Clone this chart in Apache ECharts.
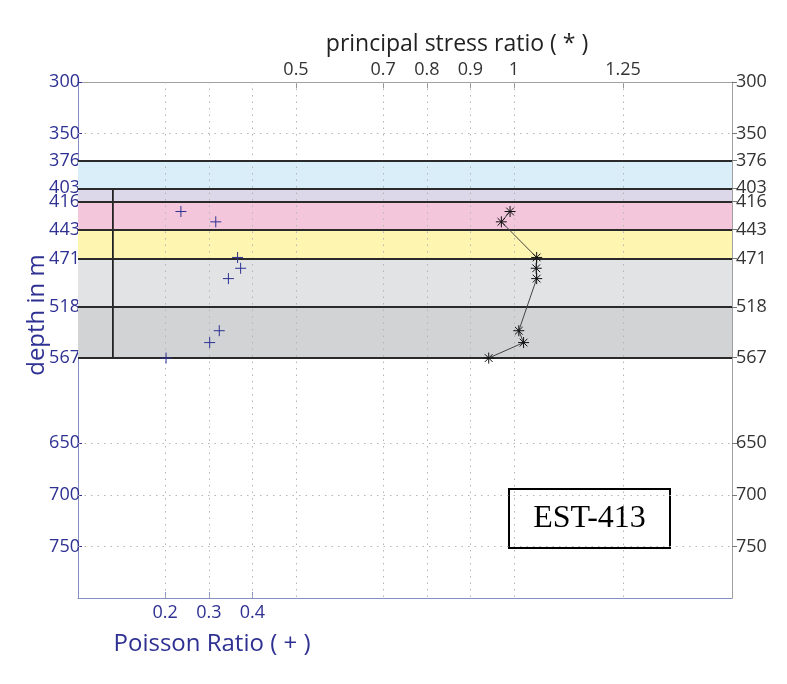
<!DOCTYPE html>
<html>
<head>
<meta charset="utf-8">
<script src="https://cdn.jsdelivr.net/npm/echarts@6/dist/echarts.min.js"></script>
<style>html,body{margin:0;padding:0;background:#fff}#c{width:787px;height:684px}</style>
</head>
<body>
<div id="c"></div>
<script>
// ---- data ----
const depths = [425.5, 435.5, 470, 480.5, 490.5, 541, 552.5, 567.5];
const poissonRatio = [0.236, 0.316, 0.366, 0.373, 0.345, 0.324, 0.302, 0.202];
const stressRatio = [0.991, 0.971, 1.052, 1.051, 1.052, 1.011, 1.022, 0.942];
const poissonTicks = [0.2, 0.3, 0.4];
const stressTicks = [0.5, 0.7, 0.8, 0.9, 1, 1.25];
const depthTicks = [300, 350, 376, 403, 416, 443, 471, 518, 567, 650, 700, 750];
const bandTops = [376, 403, 416, 443, 471, 518];
const bandBottoms = [403, 416, 443, 471, 518, 567];
const bandColors = ['#d9eef9', '#dcd8e9', '#f4c6dc', '#fdf5b0', '#e2e3e5', '#d2d3d5'];
const boundaryDepths = [376, 403, 416, 443, 471, 518, 567];
const wellLineX = [0.08, 0.08];
const wellLineDepth = [403, 567];
const wellLabel = 'EST-413';

const blue = '#2e3192';
const sans = 'Open Sans';
const chart = echarts.init(document.getElementById('c'), null, {renderer: 'canvas'});

const bandData = bandTops.map((t, i) => [
  {yAxis: t, itemStyle: {color: bandColors[i]}},
  {yAxis: bandBottoms[i]}
]);
const gridLines = []
  .concat(poissonTicks.concat(stressTicks).map(v => ({xAxis: v})))
  .concat(depthTicks.filter(d => boundaryDepths.indexOf(d) < 0 && d !== 300).map(d => ({yAxis: d})));
const boundaryLines = boundaryDepths.map(d => ({yAxis: d}));

chart.setOption({
  animation: false,
  backgroundColor: '#fff',
  grid: {left: 78, right: 55, top: 82, bottom: 86, containLabel: false},
  xAxis: [
    {
      type: 'value', position: 'bottom', min: 0, max: 1.5,
      name: 'Poisson Ratio ( + )', nameLocation: 'middle', nameGap: 34,
      nameTextStyle: {color: blue, fontSize: 24, fontFamily: sans, padding: [0, 386, 0, 0]},
      axisLine: {show: true, onZero: false, lineStyle: {color: '#8590c4', width: 1}},
      axisTick: {show: true, inside: true, length: 6, customValues: poissonTicks, lineStyle: {color: '#8590c4'}},
      axisLabel: {customValues: poissonTicks, color: blue, fontSize: 18, fontFamily: sans, margin: 6},
      splitLine: {show: false}
    },
    {
      type: 'value', position: 'top', min: 0, max: 1.5,
      name: 'principal stress ratio ( * )', nameLocation: 'middle', nameGap: 23,
      nameTextStyle: {color: '#222', fontSize: 23, fontFamily: sans, padding: [0, 0, 0, 104]},
      axisLine: {show: true, onZero: false, lineStyle: {color: '#a0a0a0', width: 1}},
      axisTick: {show: true, inside: true, length: 6, customValues: stressTicks, lineStyle: {color: '#999'}},
      axisLabel: {customValues: stressTicks, color: '#333', fontSize: 18, fontFamily: sans, margin: 3},
      splitLine: {show: false}
    }
  ],
  yAxis: [
    {
      type: 'value', position: 'left', inverse: true, min: 300, max: 800,
      name: 'depth in m', nameLocation: 'middle', nameGap: 29, nameRotate: 90, nameMoveOverlap: false,
      nameTextStyle: {color: blue, fontSize: 24, fontFamily: sans, padding: [0, 0, 0, 50]},
      axisLine: {show: true, onZero: false, lineStyle: {color: '#8590c4', width: 1}},
      axisTick: {show: true, inside: true, length: 4, customValues: depthTicks, lineStyle: {color: blue}},
      axisLabel: {customValues: depthTicks, color: blue, fontSize: 18, fontFamily: sans, margin: -2},
      splitLine: {show: false}
    },
    {
      type: 'value', position: 'right', inverse: true, min: 300, max: 800,
      axisLine: {show: true, onZero: false, lineStyle: {color: '#a0a0a0', width: 1}},
      axisTick: {show: true, inside: false, length: 5, customValues: depthTicks, lineStyle: {color: '#777'}},
      axisLabel: {customValues: depthTicks, color: '#333', fontSize: 18, fontFamily: sans, margin: 4},
      splitLine: {show: false}
    }
  ],
  graphic: [{
    type: 'group', left: 508, top: 488, z: 100,
    children: [
      {type: 'rect', shape: {x: 0, y: 0, width: 161, height: 59},
       style: {fill: '#fff', stroke: '#000', lineWidth: 2}},
      {type: 'text', x: 80.5, y: 30,
       style: {text: wellLabel, fill: '#000', font: '32px "Liberation Serif"', align: 'center', verticalAlign: 'middle'}}
    ]
  }],
  series: [
    {
      type: 'line', xAxisIndex: 0, yAxisIndex: 0, data: [], z: 1, silent: true,
      markArea: {silent: true, data: bandData, itemStyle: {borderWidth: 0}}
    },
    {
      type: 'line', xAxisIndex: 0, yAxisIndex: 0, data: [], z: 2, silent: true,
      markLine: {silent: true, symbol: ['none', 'none'], label: {show: false},
        lineStyle: {color: '#b5b5b5', type: [1.5, 5], width: 1}, data: gridLines}
    },
    {
      type: 'line', xAxisIndex: 0, yAxisIndex: 0, data: [], z: 3, silent: true,
      markLine: {silent: true, symbol: ['none', 'none'], label: {show: false},
        lineStyle: {color: '#2a2a2a', type: 'solid', width: 1.8}, data: boundaryLines}
    },
    {
      type: 'line', xAxisIndex: 0, yAxisIndex: 0, z: 3, silent: true, symbol: 'none',
      lineStyle: {color: '#222', width: 1.8},
      data: wellLineX.map((x, i) => [x, wellLineDepth[i]])
    },
    {
      name: 'Poisson Ratio', type: 'scatter', xAxisIndex: 0, yAxisIndex: 0, z: 5,
      symbol: 'path://M5,0L5,10M0,5L10,5', symbolSize: 11,
      itemStyle: {color: 'none', borderColor: blue, borderWidth: 1, opacity: 1},
      data: poissonRatio.map((v, i) => [v, depths[i]])
    },
    {
      name: 'principal stress ratio', type: 'line', xAxisIndex: 1, yAxisIndex: 0, z: 5,
      symbol: 'path://M5,0L5,10M0,5L10,5M1.5,1.5L8.5,8.5M8.5,1.5L1.5,8.5', symbolSize: 11,
      itemStyle: {color: 'none', borderColor: '#111', borderWidth: 1},
      lineStyle: {color: '#444', width: 1},
      data: stressRatio.map((v, i) => [v, depths[i]])
    }
  ]
});
</script>
</body>
</html>
